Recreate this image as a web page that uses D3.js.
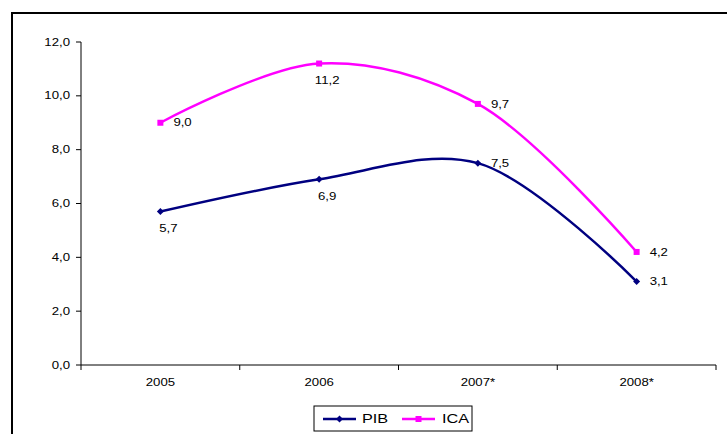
<!DOCTYPE html>
<html>
<head>
<meta charset="utf-8">
<script src="https://cdn.jsdelivr.net/npm/d3@7"></script>
<style>
  html, body { margin: 0; padding: 0; background: #fff; }
  svg { display: block; }
  text { font-family: "Liberation Sans", Arial, sans-serif; font-size: 11px; fill: #000; }
</style>
</head>
<body>
<svg id="chart" width="727" height="434"></svg>
<script>
// ---- data ----
const categories = ["2005", "2006", "2007*", "2008*"];
const pibValues = [5.7, 6.9, 7.5, 3.1];
const icaValues = [9.0, 11.2, 9.7, 4.2];
const yTicks = [0, 2, 4, 6, 8, 10, 12];
const seriesNames = ["PIB", "ICA"];
// label placement per point
const pibLabelPos = ["below", "below", "right", "right"];
const icaLabelPos = ["right", "below", "right", "right"];

const W = 727, H = 434;
const svg = d3.select("#chart");
const SX = 1.2; // horizontal text stretch

function stretchText(sel, x, y, str, anchor) {
  return sel.append("text")
    .attr("transform", `translate(${x},${y}) scale(${SX},1)`)
    .attr("text-anchor", anchor || "start")
    .attr("dominant-baseline", "central")
    .text(str);
}

// outer frame
svg.append("rect")
  .attr("x", 12).attr("y", 13).attr("width", 760).attr("height", 460)
  .attr("fill", "none").attr("stroke", "#000").attr("stroke-width", 2);

const plot = { left: 81, right: 716, top: 42, bottom: 365 };
const x = d3.scaleBand().domain(categories).range([plot.left, plot.right]);
const y = d3.scaleLinear().domain([0, 12]).range([plot.bottom, plot.top]);
const cx = c => x(c) + x.bandwidth() / 2;

// y axis
svg.append("line").attr("x1", plot.left).attr("x2", plot.left)
  .attr("y1", plot.top).attr("y2", plot.bottom).attr("stroke", "#000").attr("stroke-width", 1);
yTicks.forEach(t => {
  svg.append("line").attr("x1", plot.left - 5).attr("x2", plot.left)
    .attr("y1", y(t)).attr("y2", y(t)).attr("stroke", "#000");
  stretchText(svg, plot.left - 11, y(t), d3.format(".1f")(t).replace(".", ","), "end");
});

// x axis
svg.append("line").attr("x1", plot.left).attr("x2", plot.right)
  .attr("y1", plot.bottom).attr("y2", plot.bottom).attr("stroke", "#000");
const bounds = categories.map(c => x(c)).concat([plot.right]);
bounds.forEach(b => {
  svg.append("line").attr("x1", b).attr("x2", b)
    .attr("y1", plot.bottom).attr("y2", plot.bottom + 5).attr("stroke", "#000");
});
categories.forEach(c => stretchText(svg, cx(c), plot.bottom + 17, c, "middle"));

// series
const line = d3.line()
  .x((d, i) => cx(categories[i]))
  .y(d => y(d))
  .curve(d3.curveCatmullRom.alpha(0.5));

const series = [
  { name: seriesNames[0], values: pibValues, color: "#000080", marker: "diamond", pos: pibLabelPos },
  { name: seriesNames[1], values: icaValues, color: "#FF00FF", marker: "square", pos: icaLabelPos }
];

function drawMarker(g, type, px, py, color) {
  if (type === "diamond") {
    g.append("path")
      .attr("d", `M${px},${py - 3.5}L${px + 3.5},${py}L${px},${py + 3.5}L${px - 3.5},${py}Z`)
      .attr("fill", color);
  } else {
    g.append("rect").attr("x", px - 3).attr("y", py - 3).attr("width", 6).attr("height", 6)
      .attr("fill", color);
  }
}

const fmt = v => d3.format(".1f")(v).replace(".", ",");

series.forEach(s => {
  svg.append("path").datum(s.values)
    .attr("d", line).attr("fill", "none")
    .attr("stroke", s.color).attr("stroke-width", 2.5);
  s.values.forEach((v, i) => {
    const px = cx(categories[i]), py = y(v);
    drawMarker(svg, s.marker, px, py, s.color);
    if (s.pos[i] === "below") {
      stretchText(svg, px + 8, py + 17, fmt(v), "middle");
    } else {
      stretchText(svg, px + 13, py, fmt(v), "start");
    }
  });
});

// legend
const lg = svg.append("g");
lg.append("rect").attr("x", 314).attr("y", 406).attr("width", 158).attr("height", 25)
  .attr("fill", "#fff").attr("stroke", "#000").attr("stroke-width", 1);
const legendItems = [
  { s: series[0], x0: 323, tx: 362 },
  { s: series[1], x0: 402, tx: 442 }
];
legendItems.forEach(it => {
  lg.append("line").attr("x1", it.x0).attr("x2", it.x0 + 33)
    .attr("y1", 419).attr("y2", 419).attr("stroke", it.s.color).attr("stroke-width", 2.5);
  drawMarker(lg, it.s.marker, it.x0 + 16.5, 419, it.s.color);
  lg.append("text")
    .attr("transform", `translate(${it.tx},419) scale(1.25,1)`)
    .attr("dominant-baseline", "central")
    .style("font-size", "13px")
    .text(it.s.name);
});
</script>
</body>
</html>
